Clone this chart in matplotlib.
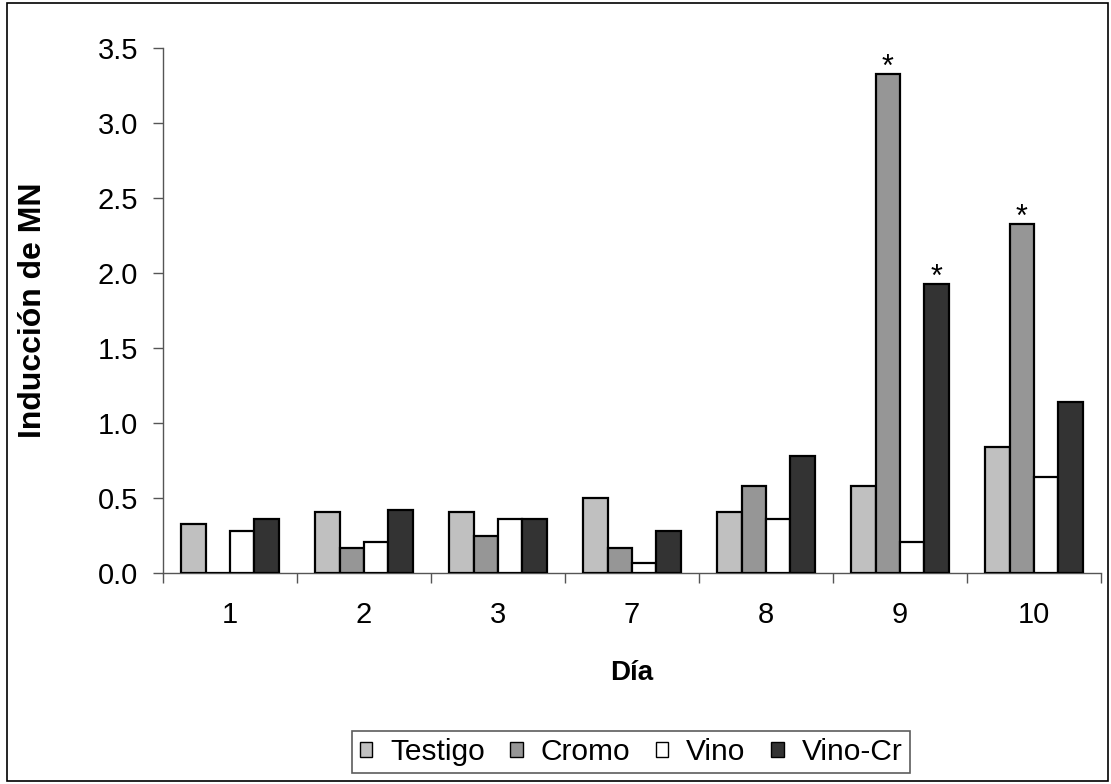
import matplotlib
matplotlib.use("Agg")
import matplotlib.pyplot as plt
from matplotlib.patches import Rectangle
import numpy as np

plt.rcParams['font.family'] = ['Liberation Sans', 'DejaVu Sans']

dias = ['1', '2', '3', '7', '8', '9', '10']
series = ['Testigo', 'Cromo', 'Vino', 'Vino-Cr']
testigo = [0.33, 0.41, 0.41, 0.50, 0.41, 0.58, 0.84]
cromo = [0.0, 0.17, 0.25, 0.17, 0.58, 3.33, 2.33]
vino = [0.28, 0.21, 0.36, 0.07, 0.36, 0.21, 0.64]
vino_cr = [0.36, 0.42, 0.36, 0.28, 0.78, 1.93, 1.14]
# significant differences marked with an asterisk: (day index, series index)
significativos = [(5, 1), (5, 3), (6, 1)]

colores = ['#C0C0C0', '#969696', '#FFFFFF', '#333333']
valores = [testigo, cromo, vino, vino_cr]

fig = plt.figure(figsize=(11.11, 7.84), dpi=100)
ax = fig.add_axes([163 / 1111, 1 - 573 / 784, 938 / 1111, 525 / 784])

x = np.arange(len(dias))
w = 1 / 5.5
for i, (nombre, vals, c) in enumerate(zip(series, valores, colores)):
    ax.bar(x + (i - 1.5) * w, vals, width=w, color=c, edgecolor='black',
           linewidth=1.6, label=nombre, zorder=3)

for d, s in significativos:
    ax.text(x[d] + (s - 1.5) * w, valores[s][d] - 0.06, '*', ha='center',
            va='bottom', fontsize=22, zorder=4)

ax.set_xlim(-0.5, len(dias) - 0.5)
ax.set_ylim(0, 3.5)
ax.set_yticks(np.arange(0, 3.51, 0.5))
ax.set_yticklabels([f'{v:.1f}' for v in np.arange(0, 3.51, 0.5)])
ax.tick_params(axis='y', length=7, width=1, color='#555555', pad=11, labelsize=21)

ax.set_xticks(np.arange(-0.5, len(dias), 1))
ax.set_xticklabels([])
ax.tick_params(axis='x', which='major', length=7, width=1, color='#555555', direction='out')
ax.set_xticks(x, minor=True)
ax.set_xticklabels(dias, minor=True)
ax.tick_params(axis='x', which='minor', length=0, pad=20, labelsize=21)

for side in ['top', 'right']:
    ax.spines[side].set_visible(False)
for side in ['left', 'bottom']:
    ax.spines[side].set_color('#555555')
    ax.spines[side].set_linewidth(1)

ax.set_ylabel('Inducción de MN', fontsize=23, fontweight='bold')
ax.yaxis.set_label_coords(-0.123, 0.5)
ax.set_xlabel('Día', fontsize=20, fontweight='bold')
ax.xaxis.set_label_coords(0.5, -0.165)

leg = fig.legend(loc='center', bbox_to_anchor=(631 / 1111, 1 - 752 / 784), ncol=4,
                 fontsize=21.5, frameon=True, fancybox=False, handlelength=0.42,
                 handleheight=0.42, handletextpad=0.6, columnspacing=0.85,
                 borderpad=0.25, borderaxespad=0)
leg.get_frame().set_edgecolor('#333333')
leg.get_frame().set_linewidth(1.2)
for h in leg.legend_handles:
    h.set_linewidth(1.0)

fig.patches.append(Rectangle((7 / 1111, 3 / 784), 1101 / 1111, 778 / 784,
                             transform=fig.transFigure, fill=False,
                             edgecolor='black', linewidth=1.2))

fig.savefig('out.png', dpi=100)
